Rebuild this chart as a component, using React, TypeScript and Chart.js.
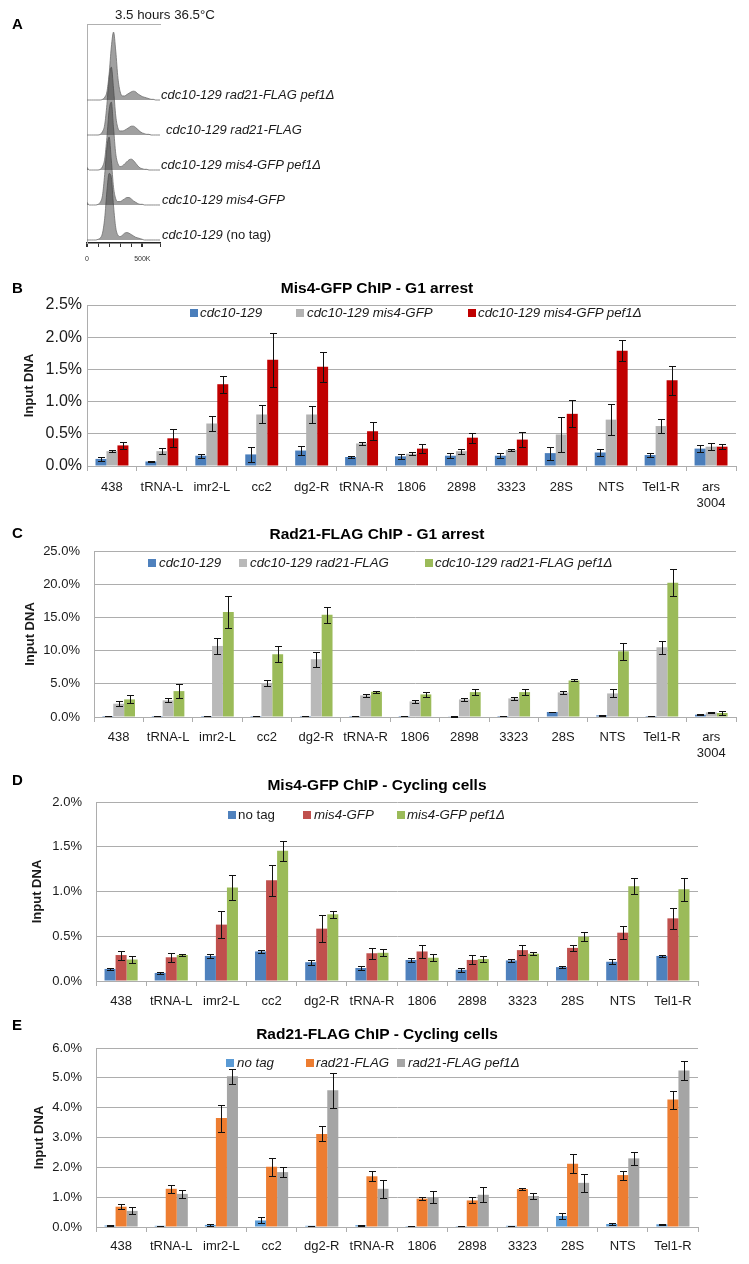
import React, { useEffect, useRef } from 'react';
import { Chart, registerables } from 'chart.js';

Chart.register(...registerables);

const FONT = '"Liberation Sans", Arial, Helvetica, sans-serif';
const GRID = '#adadad';
const TEXT = '#1a1a1a';

// ---------------- Panel A: flow cytometry (DNA content, K) ----------------
const FLOW_X = [0, 20, 40, 60, 80, 100, 120, 140, 160, 180, 200, 220, 240, 260, 280, 300, 320, 340, 360, 380, 400, 420, 440, 460, 480, 500, 520, 540, 560, 580, 600, 620, 640, 660];
const FLOW_RAD21_PEF1 = [0, 0, 0, 0, 0, 0, 0, 1, 4, 12, 38, 78, 100, 72, 32, 12, 6, 6, 8, 10, 12, 13, 12, 9, 7, 5, 4, 3, 2, 1, 1, 0, 0, 0];
const FLOW_RAD21 = [0, 0, 0, 0, 0, 0, 1, 5, 15, 45, 85, 100, 68, 28, 10, 6, 6, 7, 9, 11, 13, 13, 11, 8, 5, 3, 2, 1, 1, 0, 0, 0, 0, 0];
const FLOW_MIS4_PEF1 = [4, 0, 0, 0, 0, 0, 1, 5, 16, 48, 88, 100, 62, 24, 9, 5, 6, 9, 12, 15, 16, 14, 10, 6, 3, 2, 1, 1, 0, 0, 0, 0, 0, 0];
const FLOW_MIS4 = [4, 0, 0, 0, 0, 1, 4, 14, 45, 85, 100, 66, 26, 9, 5, 5, 7, 9, 11, 11, 9, 6, 4, 2, 1, 1, 0, 0, 0, 0, 0, 0, 0, 0];
const FLOW_NOTAG = [0, 0, 0, 0, 0, 1, 3, 10, 32, 72, 98, 92, 50, 18, 7, 5, 7, 10, 11, 10, 8, 6, 4, 3, 2, 1, 0, 0, 0, 0, 0, 0, 0, 0];
const FLOW_ROWS = [FLOW_RAD21_PEF1, FLOW_RAD21, FLOW_MIS4_PEF1, FLOW_MIS4, FLOW_NOTAG];
const FLOW_TITLE = '3.5 hours 36.5°C';

// ---------------- Categories ----------------
const SITES_13: (string | string[])[] = ['438', 'tRNA-L', 'imr2-L', 'cc2', 'dg2-R', 'tRNA-R', '1806', '2898', '3323', '28S', 'NTS', 'Tel1-R', ['ars', '3004']];
const SITES_12 = ['438', 'tRNA-L', 'imr2-L', 'cc2', 'dg2-R', 'tRNA-R', '1806', '2898', '3323', '28S', 'NTS', 'Tel1-R'];

// ---------------- Panel B ----------------
const B_LABELS = ['cdc10-129', 'cdc10-129 mis4-GFP', 'cdc10-129 mis4-GFP pef1Δ'];
const B_CDC10 = [0.11, 0.07, 0.16, 0.18, 0.24, 0.14, 0.15, 0.16, 0.16, 0.20, 0.21, 0.17, 0.27];
const B_CDC10_ERR = [0.03, 0.01, 0.03, 0.12, 0.065, 0.02, 0.04, 0.04, 0.04, 0.10, 0.05, 0.03, 0.05];
const B_MIS4 = [0.23, 0.23, 0.66, 0.80, 0.80, 0.35, 0.19, 0.23, 0.25, 0.49, 0.72, 0.62, 0.30];
const B_MIS4_ERR = [0.02, 0.05, 0.11, 0.14, 0.13, 0.03, 0.02, 0.04, 0.02, 0.27, 0.24, 0.11, 0.05];
const B_PEF1 = [0.32, 0.43, 1.27, 1.65, 1.54, 0.54, 0.27, 0.44, 0.41, 0.81, 1.79, 1.33, 0.30];
const B_PEF1_ERR = [0.05, 0.14, 0.13, 0.42, 0.23, 0.14, 0.07, 0.08, 0.12, 0.21, 0.16, 0.22, 0.04];

// ---------------- Panel C ----------------
const C_LABELS = ['cdc10-129', 'cdc10-129 rad21-FLAG', 'cdc10-129 rad21-FLAG pef1Δ'];
const C_CDC10 = [0.15, 0.15, 0.15, 0.15, 0.15, 0.15, 0.15, 0.1, 0.15, 0.75, 0.25, 0.15, 0.35];
const C_CDC10_ERR = [0.03, 0.03, 0.03, 0.03, 0.03, 0.03, 0.03, 0.03, 0.03, 0.05, 0.05, 0.03, 0.05];
const C_RAD21 = [2.0, 2.5, 10.7, 5.1, 8.7, 3.25, 2.35, 2.65, 2.8, 3.7, 3.55, 10.5, 0.7];
const C_RAD21_ERR = [0.35, 0.3, 1.2, 0.5, 1.1, 0.2, 0.2, 0.2, 0.25, 0.2, 0.6, 1.0, 0.05];
const C_PEF1 = [2.65, 3.9, 15.8, 9.45, 15.4, 3.8, 3.4, 3.75, 3.75, 5.5, 9.9, 20.2, 0.6];
const C_PEF1_ERR = [0.6, 1.1, 2.4, 1.2, 1.2, 0.15, 0.4, 0.4, 0.5, 0.15, 1.25, 2.05, 0.35];

// ---------------- Panel D ----------------
const D_LABELS = ['no tag', 'mis4-GFP', 'mis4-GFP pef1Δ'];
const D_NOTAG = [0.135, 0.09, 0.28, 0.33, 0.21, 0.145, 0.235, 0.125, 0.23, 0.155, 0.215, 0.28];
const D_NOTAG_ERR = [0.015, 0.01, 0.02, 0.02, 0.03, 0.02, 0.02, 0.02, 0.02, 0.015, 0.03, 0.01];
const D_MIS4 = [0.29, 0.265, 0.63, 1.125, 0.585, 0.31, 0.33, 0.235, 0.345, 0.37, 0.54, 0.70];
const D_MIS4_ERR = [0.05, 0.05, 0.15, 0.17, 0.15, 0.06, 0.07, 0.05, 0.06, 0.03, 0.07, 0.12];
const D_PEF1 = [0.24, 0.29, 1.045, 1.455, 0.745, 0.315, 0.26, 0.245, 0.305, 0.495, 1.06, 1.025];
const D_PEF1_ERR = [0.04, 0.01, 0.14, 0.11, 0.04, 0.04, 0.04, 0.03, 0.02, 0.05, 0.09, 0.13];

// ---------------- Panel E ----------------
const E_LABELS = ['no tag', 'rad21-FLAG', 'rad21-FLAG pef1Δ'];
const E_NOTAG = [0.05, 0.04, 0.07, 0.22, 0.04, 0.06, 0.03, 0.03, 0.04, 0.37, 0.10, 0.09];
const E_NOTAG_ERR = [0.01, 0.01, 0.03, 0.1, 0.01, 0.02, 0.01, 0.01, 0.01, 0.1, 0.03, 0.02];
const E_RAD21 = [0.68, 1.28, 3.65, 2.02, 3.12, 1.70, 0.95, 0.89, 1.27, 2.12, 1.74, 4.27];
const E_RAD21_ERR = [0.08, 0.13, 0.45, 0.3, 0.25, 0.17, 0.05, 0.1, 0.04, 0.32, 0.15, 0.3];
const E_PEF1 = [0.54, 1.11, 5.05, 1.84, 4.58, 1.28, 1.0, 1.08, 1.04, 1.48, 2.30, 5.25];
const E_PEF1_ERR = [0.12, 0.14, 0.25, 0.17, 0.58, 0.3, 0.2, 0.25, 0.09, 0.3, 0.23, 0.32];

// ---------------- error bar plugin ----------------
const errorBarPlugin = {
  id: 'errorBars',
  afterDatasetsDraw(chart: any) {
    const ctx = chart.ctx;
    const yScale = chart.scales.y;
    ctx.save();
    ctx.strokeStyle = '#111';
    ctx.lineWidth = 1;
    chart.data.datasets.forEach((ds: any, i: number) => {
      const meta = chart.getDatasetMeta(i);
      meta.data.forEach((bar: any, j: number) => {
        const v = ds.data[j];
        const e = ds.errors ? ds.errors[j] : 0;
        if (!e) return;
        const x = Math.round(bar.x) + 0.5;
        const yt = Math.round(yScale.getPixelForValue(v + e)) + 0.5;
        const yb = Math.round(yScale.getPixelForValue(v - e)) + 0.5;
        const cap = 3.5;
        ctx.beginPath();
        ctx.moveTo(x, yt);
        ctx.lineTo(x, yb);
        ctx.moveTo(x - cap, yt);
        ctx.lineTo(x + cap, yt);
        ctx.moveTo(x - cap, yb);
        ctx.lineTo(x + cap, yb);
        ctx.stroke();
      });
    });
    ctx.restore();
  },
};

type Series = { label: string; data: number[]; err: number[]; color: string };
type BarPanelProps = {
  top: number;
  height: number;
  padTop: number;
  yWidth: number;
  padRight: number;
  xHeight: number;
  xPad: number;
  labels: (string | string[])[];
  series: Series[];
  yMax: number;
  yStep: number;
  tickSize: number;
  tickPad: number;
  yTitlePad: number;
};

function BarPanel(p: BarPanelProps) {
  const ref = useRef<HTMLCanvasElement>(null);
  useEffect(() => {
    const chart = new Chart(ref.current as HTMLCanvasElement, {
      type: 'bar',
      data: {
        labels: p.labels as any,
        datasets: p.series.map((s) => ({
          label: s.label,
          data: s.data,
          errors: s.err,
          backgroundColor: s.color,
          borderWidth: 0,
          barPercentage: 1,
          categoryPercentage: 0.66,
        })) as any,
      },
      options: {
        responsive: false,
        animation: false,
        events: [],
        layout: { padding: { top: p.padTop, right: p.padRight, left: 0, bottom: 0 } },
        plugins: { legend: { display: false }, title: { display: false }, tooltip: { enabled: false } },
        scales: {
          x: {
            grid: { display: true, drawOnChartArea: false, drawTicks: true, tickLength: 5, color: GRID, offset: true },
            border: { display: true, color: GRID, width: 1 },
            ticks: { font: { family: FONT, size: 13 }, color: TEXT, padding: p.xPad, maxRotation: 0, autoSkip: false },
            afterFit: (s: any) => {
              s.height = p.xHeight;
            },
          },
          y: {
            min: 0,
            max: p.yMax,
            ticks: {
              stepSize: p.yStep,
              callback: (v: any) => Number(v).toFixed(1) + '%',
              font: { family: FONT, size: p.tickSize },
              color: TEXT,
              padding: p.tickPad,
            },
            grid: { color: GRID, drawTicks: false, lineWidth: 1 },
            border: { display: true, color: GRID, width: 1 },
            title: {
              display: true,
              text: 'Input DNA',
              font: { family: FONT, size: 13, weight: 'bold' },
              color: TEXT,
              padding: { top: p.yTitlePad, bottom: 0 },
            },
            afterFit: (s: any) => {
              s.width = p.yWidth;
            },
          },
        },
      } as any,
      plugins: [errorBarPlugin],
    });
    return () => chart.destroy();
  }, []);
  return (
    <canvas
      ref={ref}
      width={749}
      height={p.height}
      style={{ position: 'absolute', left: 0, top: p.top, width: 749, height: p.height }}
    />
  );
}

function FlowPanel() {
  const ref = useRef<HTMLCanvasElement>(null);
  useEffect(() => {
    const ROW_STEP = 50;
    const PEAK_SCALE = 0.97;
    const n = FLOW_ROWS.length;
    const datasets = FLOW_ROWS.map((row, r) => {
      const base = (n - 1 - r) * ROW_STEP;
      return {
        data: FLOW_X.map((x, i) => ({ x, y: base + row[i] * PEAK_SCALE })),
        fill: { value: base },
        backgroundColor: 'rgba(45,45,45,0.45)',
        borderColor: '#6e6e6e',
        borderWidth: 0.8,
        pointRadius: 0,
        cubicInterpolationMode: 'monotone',
      };
    });
    const chart = new Chart(ref.current as HTMLCanvasElement, {
      type: 'line',
      data: { datasets: datasets as any },
      options: {
        responsive: false,
        animation: false,
        events: [],
        layout: { padding: { top: 24, left: 87, right: 10, bottom: 0 } },
        plugins: { legend: { display: false }, tooltip: { enabled: false } },
        scales: {
          x: {
            type: 'linear',
            min: 0,
            max: 660,
            ticks: {
              stepSize: 100,
              callback: (v: any) => (v === 0 ? '0' : v === 500 ? '500K' : ''),
              font: { family: FONT, size: 7 },
              color: '#333',
              padding: 8,
              maxRotation: 0,
              autoSkip: false,
            },
            grid: {
              drawOnChartArea: false,
              tickLength: 4,
              color: '#333',
              lineWidth: (c: any) => (c.tick && c.tick.value % 500 === 0 ? 2 : 1),
            },
            border: { display: true, color: '#222', width: 1.5 },
            afterFit: (s: any) => {
              s.height = 27;
            },
          },
          x2: {
            type: 'linear',
            position: 'top',
            min: 0,
            max: 660,
            grid: { display: false },
            ticks: { display: false },
            border: { display: true, color: '#b0b0b0', width: 1 },
            afterFit: (s: any) => {
              s.height = 0;
            },
          },
          y: {
            min: -4.3,
            max: 308.6,
            grid: { display: false },
            ticks: { display: false },
            border: { display: true, color: '#b0b0b0', width: 1 },
            afterFit: (s: any) => {
              s.width = 0;
            },
          },
        },
      } as any,
    });
    return () => chart.destroy();
  }, []);
  return (
    <canvas
      ref={ref}
      width={170}
      height={270}
      style={{ position: 'absolute', left: 0, top: 0, width: 170, height: 270 }}
    />
  );
}

function Letter({ ch, x, y }: { ch: string; x: number; y: number }) {
  return (
    <div style={{ position: 'absolute', left: x, top: y - 9, fontSize: 15, fontWeight: 'bold', lineHeight: '18px' }}>{ch}</div>
  );
}

function Title({ text, y }: { text: string; y: number }) {
  return (
    <div
      style={{
        position: 'absolute',
        left: 0,
        width: 754,
        top: y - 9,
        textAlign: 'center',
        fontSize: 15.5,
        fontWeight: 'bold',
        lineHeight: '18px',
        whiteSpace: 'nowrap',
      }}
    >
      {text}
    </div>
  );
}

type LegendItem = { box: number; text: number; label: string; color: string; italic: boolean };
function Legend({ y, items }: { y: number; items: LegendItem[] }) {
  return (
    <>
      {items.map((it, i) => (
        <React.Fragment key={i}>
          <div style={{ position: 'absolute', left: it.box, top: y - 4, width: 8, height: 8, background: it.color }} />
          <div
            style={{
              position: 'absolute',
              left: it.text,
              top: y - 8,
              fontSize: 13.3,
              lineHeight: '16px',
              fontStyle: it.italic ? 'italic' : 'normal',
              whiteSpace: 'nowrap',
              color: TEXT,
            }}
          >
            {it.label}
          </div>
        </React.Fragment>
      ))}
    </>
  );
}

function FlowLabel({ x, y, italic, plain }: { x: number; y: number; italic: string; plain?: string }) {
  return (
    <div style={{ position: 'absolute', left: x, top: y - 8, fontSize: 13, lineHeight: '16px', whiteSpace: 'nowrap', color: TEXT }}>
      <span style={{ fontStyle: 'italic' }}>{italic}</span>
      {plain ? <span> {plain}</span> : null}
    </div>
  );
}

const B_COLORS = ['#4a7ebb', '#b3b3b3', '#c00000'];
const C_COLORS = ['#4f81bd', '#b9b9b9', '#9bbb59'];
const D_COLORS = ['#4f81bd', '#c0504d', '#9bbb59'];
const E_COLORS = ['#5b9bd5', '#ed7d31', '#a5a5a5'];

export default function App() {
  return (
    <div
      style={{
        position: 'absolute',
        left: 0,
        top: 0,
        width: 749,
        height: 1264,
        background: '#fff',
        fontFamily: FONT,
        color: '#000',
        overflow: 'hidden',
      }}
    >
      {/* Panel A */}
      <FlowPanel />
      <Letter ch="A" x={12} y={24} />
      <div style={{ position: 'absolute', left: 115, top: 7, fontSize: 13.3, lineHeight: '16px', whiteSpace: 'nowrap', color: TEXT }}>
        {FLOW_TITLE}
      </div>
      <FlowLabel x={161} y={95} italic="cdc10-129 rad21-FLAG pef1Δ" />
      <FlowLabel x={166} y={130} italic="cdc10-129 rad21-FLAG" />
      <FlowLabel x={161} y={165} italic="cdc10-129 mis4-GFP pef1Δ" />
      <FlowLabel x={162} y={200} italic="cdc10-129 mis4-GFP" />
      <FlowLabel x={162} y={235} italic="cdc10-129" plain="(no tag)" />

      {/* Panel B */}
      <BarPanel
        top={270}
        height={240}
        padTop={35}
        yWidth={87}
        padRight={13}
        xHeight={44}
        xPad={9}
        labels={SITES_13}
        yMax={2.5}
        yStep={0.5}
        tickSize={16}
        tickPad={5}
        yTitlePad={22}
        series={[
          { label: B_LABELS[0], data: B_CDC10, err: B_CDC10_ERR, color: B_COLORS[0] },
          { label: B_LABELS[1], data: B_MIS4, err: B_MIS4_ERR, color: B_COLORS[1] },
          { label: B_LABELS[2], data: B_PEF1, err: B_PEF1_ERR, color: B_COLORS[2] },
        ]}
      />
      <Letter ch="B" x={12} y={288} />
      <Title text="Mis4-GFP ChIP - G1 arrest" y={288} />
      <Legend
        y={313}
        items={[
          { box: 190, text: 200, label: B_LABELS[0], color: B_COLORS[0], italic: true },
          { box: 296, text: 307, label: B_LABELS[1], color: B_COLORS[1], italic: true },
          { box: 468, text: 478, label: B_LABELS[2], color: B_COLORS[2], italic: true },
        ]}
      />

      {/* Panel C */}
      <BarPanel
        top={515}
        height={250}
        padTop={36}
        yWidth={94}
        padRight={13}
        xHeight={48}
        xPad={8}
        labels={SITES_13}
        yMax={25}
        yStep={5}
        tickSize={13}
        tickPad={14}
        yTitlePad={23}
        series={[
          { label: C_LABELS[0], data: C_CDC10, err: C_CDC10_ERR, color: C_COLORS[0] },
          { label: C_LABELS[1], data: C_RAD21, err: C_RAD21_ERR, color: C_COLORS[1] },
          { label: C_LABELS[2], data: C_PEF1, err: C_PEF1_ERR, color: C_COLORS[2] },
        ]}
      />
      <Letter ch="C" x={12} y={533} />
      <Title text="Rad21-FLAG ChIP - G1 arrest" y={534} />
      <Legend
        y={563}
        items={[
          { box: 148, text: 159, label: C_LABELS[0], color: C_COLORS[0], italic: true },
          { box: 239, text: 250, label: C_LABELS[1], color: C_COLORS[1], italic: true },
          { box: 425, text: 435, label: C_LABELS[2], color: C_COLORS[2], italic: true },
        ]}
      />

      {/* Panel D */}
      <BarPanel
        top={765}
        height={250}
        padTop={37}
        yWidth={96}
        padRight={51}
        xHeight={34}
        xPad={8}
        labels={SITES_12}
        yMax={2}
        yStep={0.5}
        tickSize={13}
        tickPad={14}
        yTitlePad={30}
        series={[
          { label: D_LABELS[0], data: D_NOTAG, err: D_NOTAG_ERR, color: D_COLORS[0] },
          { label: D_LABELS[1], data: D_MIS4, err: D_MIS4_ERR, color: D_COLORS[1] },
          { label: D_LABELS[2], data: D_PEF1, err: D_PEF1_ERR, color: D_COLORS[2] },
        ]}
      />
      <Letter ch="D" x={12} y={780} />
      <Title text="Mis4-GFP ChIP - Cycling cells" y={785} />
      <Legend
        y={815}
        items={[
          { box: 228, text: 238, label: D_LABELS[0], color: D_COLORS[0], italic: false },
          { box: 303, text: 314, label: D_LABELS[1], color: D_COLORS[1], italic: true },
          { box: 397, text: 407, label: D_LABELS[2], color: D_COLORS[2], italic: true },
        ]}
      />

      {/* Panel E */}
      <BarPanel
        top={1015}
        height={249}
        padTop={33}
        yWidth={96}
        padRight={51}
        xHeight={37}
        xPad={7}
        labels={SITES_12}
        yMax={6}
        yStep={1}
        tickSize={13}
        tickPad={14}
        yTitlePad={32}
        series={[
          { label: E_LABELS[0], data: E_NOTAG, err: E_NOTAG_ERR, color: E_COLORS[0] },
          { label: E_LABELS[1], data: E_RAD21, err: E_RAD21_ERR, color: E_COLORS[1] },
          { label: E_LABELS[2], data: E_PEF1, err: E_PEF1_ERR, color: E_COLORS[2] },
        ]}
      />
      <Letter ch="E" x={12} y={1025} />
      <Title text="Rad21-FLAG ChIP - Cycling cells" y={1034} />
      <Legend
        y={1063}
        items={[
          { box: 226, text: 237, label: E_LABELS[0], color: E_COLORS[0], italic: true },
          { box: 306, text: 316, label: E_LABELS[1], color: E_COLORS[1], italic: true },
          { box: 397, text: 408, label: E_LABELS[2], color: E_COLORS[2], italic: true },
        ]}
      />
    </div>
  );
}
